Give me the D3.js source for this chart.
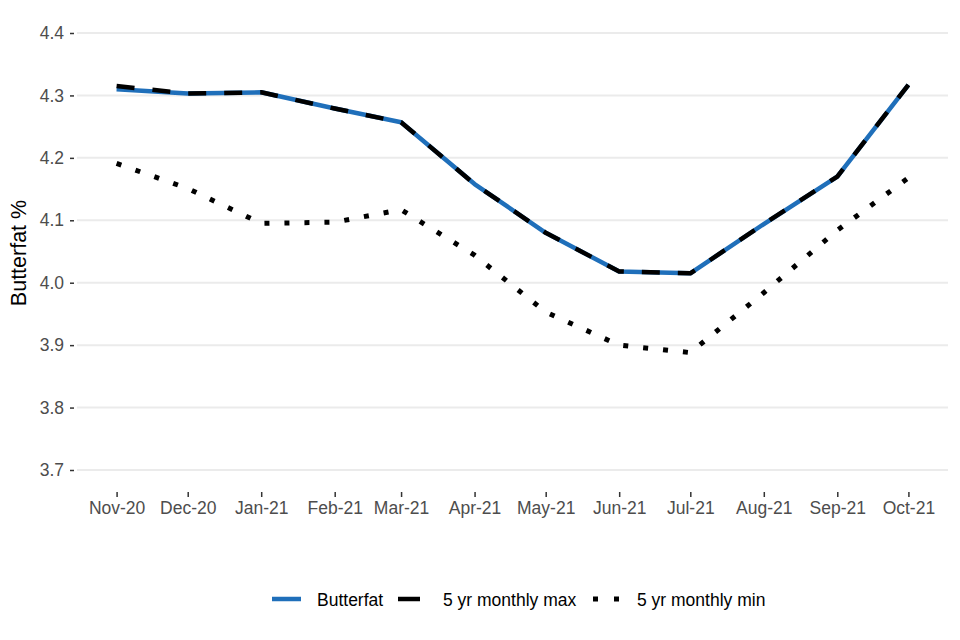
<!DOCTYPE html>
<html><head><meta charset="utf-8">
<script src="https://cdn.jsdelivr.net/npm/d3@7"></script>
<style>body{margin:0;background:#fff}svg{display:block}</style>
</head><body><svg id="c" width="960" height="640"></svg>
<script>
const months = ["2020-11-01","2020-12-01","2021-01-01","2021-02-01","2021-03-01","2021-04-01","2021-05-01","2021-06-01","2021-07-01","2021-08-01","2021-09-01","2021-10-01"];
const butterfat = [4.310,4.303,4.305,4.279,4.257,4.158,4.080,4.018,4.015,4.094,4.170,4.317];
const maxVals   = [4.315,4.303,4.305,4.279,4.257,4.158,4.080,4.018,4.015,4.094,4.170,4.317];
const minVals   = [4.191,4.151,4.095,4.097,4.117,4.044,3.953,3.900,3.888,3.984,4.084,4.168];
const yTicks = [3.7,3.8,3.9,4.0,4.1,4.2,4.3,4.4];
const seriesNames = ["Butterfat","5 yr monthly max","5 yr monthly min"];

const parse = d3.timeParse("%Y-%m-%d");
const dates = months.map(parse);
const svg = d3.select("#c");
const font = "Liberation Sans, Arial, sans-serif";
const L = 77, R = 948;
const d0 = dates[0], d1 = dates[dates.length-1];
const span = d1 - d0;
const x = d3.scaleTime().domain([new Date(+d0 - span*0.05), new Date(+d1 + span*0.05)]).range([L, R]);
const y = d3.scaleLinear().domain([3.7, 4.4]).range([470, 33]);

// gridlines
svg.append("g").selectAll("line").data(yTicks).join("line")
  .attr("x1", L).attr("x2", R).attr("y1", d => y(d)).attr("y2", d => y(d))
  .attr("stroke", "#ebebeb").attr("stroke-width", 2);

// y axis
const ya = svg.append("g").attr("transform", `translate(${L-3},0)`)
  .call(d3.axisLeft(y).tickValues(yTicks).tickFormat(d3.format(".1f")).tickSize(4).tickPadding(6));
ya.select(".domain").remove();
ya.selectAll(".tick line").attr("stroke", "#333").attr("stroke-width", 1.5);
ya.selectAll("text").attr("fill", "#4d4d4d").style("font-family", font).style("font-size", "17.5px");

// x axis
const xa = svg.append("g").attr("transform", `translate(0,${492})`)
  .call(d3.axisBottom(x).tickValues(dates).tickFormat(d3.timeFormat("%b-%y")).tickSize(5).tickPadding(5));
xa.select(".domain").remove();
xa.selectAll(".tick line").attr("stroke", "#333").attr("stroke-width", 1.5);
xa.selectAll("text").attr("fill", "#4d4d4d").style("font-family", font).style("font-size", "17.5px");

// y title
svg.append("text").attr("transform", "translate(19,253) rotate(-90)")
  .attr("text-anchor", "middle").attr("dominant-baseline", "central")
  .style("font-family", font).style("font-size", "21.5px").attr("fill", "#000").text("Butterfat %");

const line = d3.line().x((d,i) => x(dates[i])).y(d => y(d));
const styles = [
  {data: butterfat, color: "#1f6fba", width: 4.5, dash: null, keyDash: null, key: 272, text: 317},
  {data: maxVals, color: "#000", width: 4.5, dash: "18,18", keyDash: "22,30", key: 398, text: 443},
  {data: minVals, color: "#000", width: 5, dash: "5,15", keyDash: "5,16", key: 593, text: 637}
];
styles.forEach(s => {
  svg.append("path").attr("d", line(s.data)).attr("fill", "none")
    .attr("stroke", s.color).attr("stroke-width", s.width)
    .attr("stroke-dasharray", s.dash).attr("stroke-linejoin", "round");
});

// legend
const ly = 599;
styles.forEach((s, i) => {
  svg.append("line").attr("x1", s.key).attr("x2", s.key + 29)
    .attr("y1", ly).attr("y2", ly).attr("stroke", s.color).attr("stroke-width", s.width)
    .attr("stroke-dasharray", s.keyDash);
  svg.append("text").attr("x", s.text).attr("y", ly + 1).attr("dominant-baseline", "central")
    .style("font-family", font).style("font-size", "17.5px").attr("fill", "#000").text(seriesNames[i]);
});
</script></body></html>
